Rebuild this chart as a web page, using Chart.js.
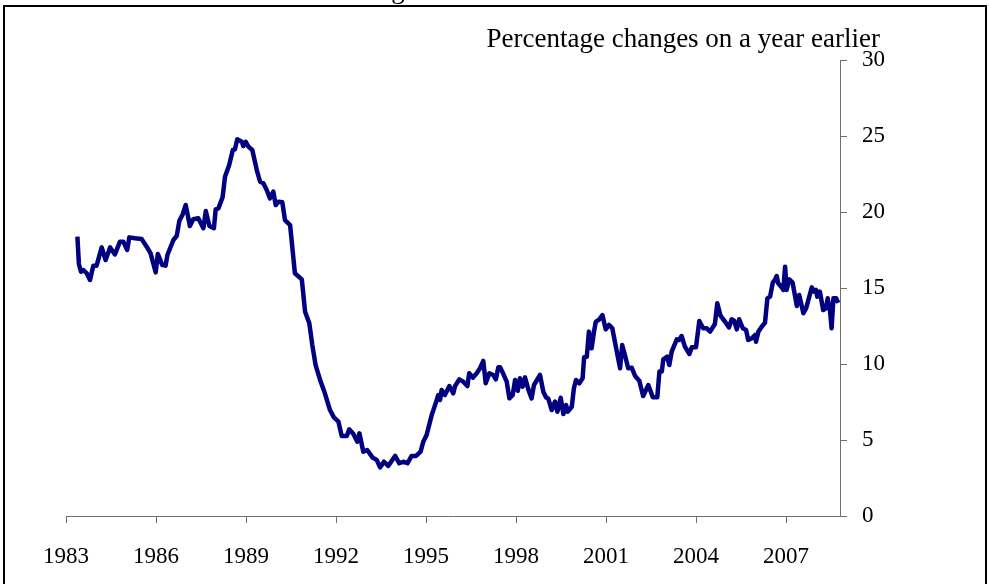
<!DOCTYPE html>
<html>
<head>
<meta charset="utf-8">
<script src="https://cdn.jsdelivr.net/npm/chart.js@4/dist/chart.umd.min.js"></script>
<style>
  html, body { margin: 0; padding: 0; background: #fff; }
  canvas { display: block; }
</style>
</head>
<body>
<canvas id="chart" width="989" height="584"></canvas>
<script>
// Annual % change (decimal year, value).
const years = [
  1983.38, 1983.43, 1983.50, 1983.58, 1983.69, 1983.80, 1983.91, 1984.02, 1984.19, 1984.32,
  1984.47, 1984.63, 1984.80, 1984.91, 1985.04, 1985.11, 1985.30, 1985.52, 1985.69, 1985.82,
  1985.99, 1986.06, 1986.21, 1986.32, 1986.38, 1986.58, 1986.69, 1986.78, 1986.89, 1986.99,
  1987.13, 1987.24, 1987.41, 1987.58, 1987.66, 1987.78, 1987.93, 1987.99, 1988.08, 1988.22,
  1988.30, 1988.44, 1988.56, 1988.63, 1988.71, 1988.86, 1988.91, 1988.99, 1989.08, 1989.21,
  1989.36, 1989.47, 1989.58, 1989.69, 1989.80, 1989.91, 1989.99, 1990.08, 1990.21, 1990.30,
  1990.47, 1990.63, 1990.86, 1990.97, 1991.11, 1991.21, 1991.32, 1991.47, 1991.63, 1991.80,
  1991.93, 1992.08, 1992.19, 1992.36, 1992.44, 1992.58, 1992.71, 1992.78, 1992.91, 1993.04,
  1993.22, 1993.36, 1993.47, 1993.60, 1993.74, 1993.97, 1994.11, 1994.24, 1994.38, 1994.52,
  1994.67, 1994.82, 1994.91, 1995.02, 1995.19, 1995.33, 1995.41, 1995.47, 1995.52, 1995.63,
  1995.78, 1995.91, 1995.97, 1996.11, 1996.24, 1996.38, 1996.44, 1996.56, 1996.69, 1996.80,
  1996.91, 1996.99, 1997.11, 1997.24, 1997.33, 1997.41, 1997.47, 1997.58, 1997.69, 1997.78,
  1997.89, 1997.97, 1998.06, 1998.13, 1998.22, 1998.30, 1998.41, 1998.52, 1998.60, 1998.80,
  1998.91, 1999.00, 1999.08, 1999.19, 1999.30, 1999.38, 1999.49, 1999.58, 1999.67, 1999.72,
  1999.86, 1999.93, 2000.00, 2000.11, 2000.22, 2000.27, 2000.36, 2000.43, 2000.52, 2000.60,
  2000.66, 2000.78, 2000.88, 2000.99, 2001.10, 2001.21, 2001.36, 2001.47, 2001.54, 2001.63,
  2001.74, 2001.86, 2001.97, 2002.11, 2002.24, 2002.41, 2002.56, 2002.71, 2002.78, 2002.86,
  2002.91, 2003.04, 2003.11, 2003.19, 2003.36, 2003.44, 2003.52, 2003.63, 2003.78, 2003.86,
  2004.00, 2004.11, 2004.24, 2004.36, 2004.47, 2004.63, 2004.71, 2004.82, 2004.97, 2005.10,
  2005.19, 2005.27, 2005.36, 2005.44, 2005.56, 2005.67, 2005.74, 2005.86, 2005.97, 2006.00,
  2006.08, 2006.19, 2006.30, 2006.38, 2006.47, 2006.56, 2006.63, 2006.69, 2006.74, 2006.86,
  2006.91, 2006.97, 2007.02, 2007.11, 2007.22, 2007.36, 2007.44, 2007.58, 2007.67, 2007.86,
  2007.94, 2008.00, 2008.04, 2008.13, 2008.24, 2008.33, 2008.39, 2008.47, 2008.52, 2008.58,
  2008.67, 2008.74
];

const changes = [
  18.38, 16.58, 16.07, 16.18, 15.97, 15.53, 16.47, 16.47, 17.67, 16.84,
  17.67, 17.21, 18.05, 18.05, 17.50, 18.33, 18.27, 18.22, 17.72, 17.28,
  16.03, 17.24, 16.51, 16.47, 17.17, 18.16, 18.42, 19.43, 19.85, 20.46,
  19.08, 19.52, 19.59, 18.93, 20.07, 19.08, 18.93, 20.18, 20.24, 20.97,
  22.32, 23.09, 24.08, 24.12, 24.78, 24.62, 24.34, 24.62, 24.30, 24.08,
  22.76, 21.99, 21.89, 21.45, 20.90, 21.34, 20.46, 20.68, 20.64, 19.47,
  19.14, 15.97, 15.57, 13.44, 12.68, 11.25, 9.93, 8.95, 8.07, 6.97,
  6.49, 6.21, 5.26, 5.26, 5.70, 5.39, 4.89, 5.44, 4.23, 4.34,
  3.84, 3.68, 3.20, 3.57, 3.29, 3.95, 3.47, 3.57, 3.47, 3.95,
  3.95, 4.23, 4.89, 5.33, 6.64, 7.46, 7.96, 7.63, 8.29, 7.96,
  8.55, 8.07, 8.55, 8.99, 8.84, 8.55, 9.39, 9.10, 9.39, 9.72,
  10.20, 8.73, 9.39, 9.28, 8.99, 9.78, 9.78, 9.34, 8.84, 7.74,
  7.96, 8.95, 8.24, 9.06, 8.51, 9.12, 8.33, 7.74, 8.62, 9.28,
  8.18, 7.81, 7.70, 6.97, 7.52, 6.86, 7.78, 6.71, 7.30, 6.86,
  7.19, 8.40, 8.95, 8.73, 9.06, 10.44, 10.48, 12.13, 11.03, 12.13,
  12.78, 12.94, 13.22, 12.28, 12.57, 12.35, 10.81, 9.72, 11.25, 10.59,
  9.72, 9.75, 9.21, 8.90, 7.89, 8.62, 7.81, 7.81, 9.50, 9.50,
  10.31, 10.48, 9.93, 10.81, 11.62, 11.58, 11.84, 11.14, 10.66, 11.10,
  11.10, 12.83, 12.35, 12.35, 12.13, 12.63, 13.99, 13.16, 12.78, 12.41,
  12.94, 12.85, 12.28, 12.94, 12.35, 12.24, 11.58, 11.69, 11.91, 11.47,
  12.13, 12.45, 12.72, 14.32, 14.43, 15.35, 15.53, 15.79, 15.31, 15.04,
  14.87, 16.40, 14.87, 15.57, 15.35, 13.82, 14.54, 13.34, 13.66, 15.04,
  14.76, 14.87, 14.43, 14.76, 13.55, 13.66, 14.32, 13.44, 12.35, 14.32,
  14.32, 14.03
];

const yearTicks = [1983, 1986, 1989, 1992, 1995, 1998, 2001, 2004, 2007];
const valueTicks = [0, 5, 10, 15, 20, 25, 30];
const subtitle = 'Percentage changes on a year earlier';
const titleFragment = 'g';

const FONT = "'Liberation Serif', 'Times New Roman', serif";
const AXIS_GREY = '#707070';

// Frame, subtitle and the clipped title left over at the top of the panel.
const decorations = {
  id: 'decorations',
  afterDraw(chart) {
    const ctx = chart.ctx;
    ctx.save();
    ctx.strokeStyle = '#000';
    ctx.lineWidth = 2;
    ctx.beginPath();
    ctx.moveTo(4, 584);
    ctx.lineTo(4, 6);
    ctx.lineTo(986, 6);
    ctx.lineTo(986, 584);
    ctx.stroke();

    ctx.fillStyle = '#000';
    ctx.font = `27px ${FONT}`;
    ctx.textAlign = 'right';
    ctx.textBaseline = 'alphabetic';
    ctx.fillText(subtitle, 880, 47);

    ctx.textAlign = 'center';
    ctx.fillText(titleFragment, 398, -2);
    ctx.restore();
  }
};

new Chart(document.getElementById('chart'), {
  type: 'line',
  data: {
    datasets: [{
      data: years.map((y, i) => ({ x: y, y: changes[i] })),
      borderColor: '#000080',
      borderWidth: 4.5,
      pointRadius: 0,
      tension: 0,
      borderJoinStyle: 'round',
      fill: false
    }]
  },
  options: {
    responsive: false,
    animation: false,
    layout: { padding: { left: 66, top: 60, right: 0, bottom: 0 } },
    plugins: { legend: { display: false }, tooltip: { enabled: false } },
    scales: {
      x: {
        type: 'linear',
        min: 1983,
        max: 2008.8,
        afterBuildTicks: s => { s.ticks = yearTicks.map(v => ({ value: v })); },
        afterFit: s => { s.height = 68; },
        grid: { drawOnChartArea: false, drawTicks: true, tickLength: 7, color: AXIS_GREY },
        border: { color: AXIS_GREY, width: 1 },
        ticks: {
          autoSkip: false,
          maxRotation: 0,
          padding: 20,
          color: '#000',
          font: { family: FONT, size: 23 },
          callback: v => String(v)
        }
      },
      y: {
        position: 'right',
        min: 0,
        max: 30,
        afterBuildTicks: s => { s.ticks = valueTicks.map(v => ({ value: v })); },
        afterFit: s => { s.width = 149; },
        grid: { drawOnChartArea: false, drawTicks: true, tickLength: 7, color: AXIS_GREY },
        border: { color: AXIS_GREY, width: 1 },
        ticks: {
          padding: 15,
          color: '#000',
          font: { family: FONT, size: 23 },
          callback: v => String(v)
        }
      }
    }
  },
  plugins: [decorations]
});
</script>
</body>
</html>
